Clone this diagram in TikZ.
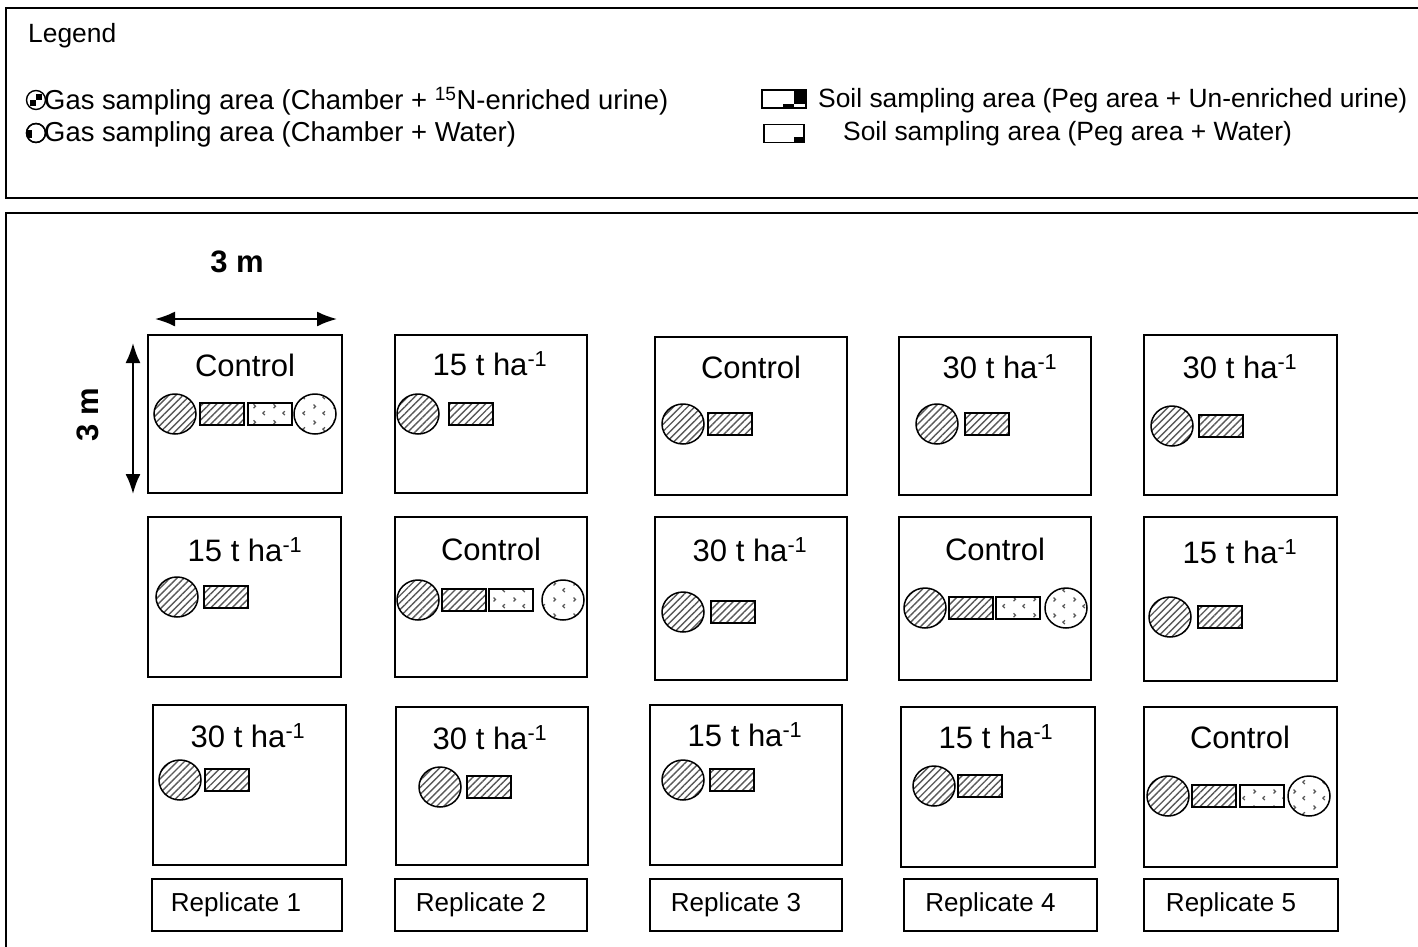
\documentclass[tikz,border=0pt]{standalone}
\usepackage{fontspec}
\setmainfont{Liberation Sans}
\usetikzlibrary{arrows.meta,shapes.geometric,patterns.meta}

\tikzdeclarepattern{
  name=chev,
  type=uncolored,
  bounding box={(0pt,0pt) and (20pt,16pt)},
  tile size={(20pt,16pt)},
  code={
    \draw[line width=1.3pt] (5pt,3pt) -- (3pt,5pt) -- (5pt,7pt);
    \draw[line width=1.3pt] (14pt,10pt) -- (16pt,12pt) -- (14pt,14pt);
  }
}

\tikzset{
  frame/.style={line width=2pt},
  plot/.style={draw, rectangle, line width=1.4pt, inner sep=0pt},
  gas/.style={draw, ellipse, line width=1.5pt, minimum width=42pt, minimum height=40pt, inner sep=0pt},
  peg/.style={draw, rectangle, line width=1.5pt, minimum width=44pt, minimum height=22pt, inner sep=0pt},
  hatch/.style={pattern={Lines[angle=45,distance=5pt,line width=1.4pt]}, pattern color=black!65},
  dotpat/.style={pattern=chev, pattern color=black!65},
  lab/.style={font=\fontsize{31}{36}\selectfont, inner sep=0pt},
  legtxt/.style={font=\fontsize{27.4}{31}\selectfont, anchor=west, inner sep=0pt},
  legtxtr/.style={font=\fontsize{26.4}{31}\selectfont, anchor=west, inner sep=0pt},
  repbox/.style={draw, rectangle, line width=1.4pt, minimum height=52pt, inner sep=0pt},
  reptxt/.style={font=\fontsize{26}{30}\selectfont, inner sep=0pt},
  dim/.style={line width=2pt, {Latex[length=20pt,width=15pt]}-{Latex[length=20pt,width=15pt]}},
  legsym/.style={draw, line width=1.4pt, inner sep=0pt}
}

\begin{document}
\begin{tikzpicture}[x=1pt,y=-1pt]
\useasboundingbox (0,0) rectangle (1418,946);
\fill[white] (0,0) rectangle (1418,946);

% frames
\draw[frame] (1430,8) -- (6,8) -- (6,198) -- (1430,198);
\draw[frame] (1430,213) -- (6,213) -- (6,960);

% legend
\node[legtxtr] (leg) at (28,36) {Legend};
\node[legsym, circle, minimum size=19pt] (lg1) at (36,100) {};
\fill (lg1.center) rectangle ++(6,-6);
\fill (lg1.center) rectangle ++(-6,6);
\node[legtxt] (lt1) at (44,101) {Gas sampling area (Chamber + \textsuperscript{15}N-enriched urine)};
\node[legsym, circle, minimum size=19pt] (lg2) at (36,133) {};
\begin{scope}
  \clip (lg2.center) circle (9.5);
  \fill (26,129.5) rectangle (32,137.5);
\end{scope}
\node[legsym, circle, minimum size=19pt] at (36,133) {};
\node[legtxt] (lt2) at (44,134) {Gas sampling area (Chamber + Water)};

\node[legsym, minimum width=44pt, minimum height=18pt] (ls1) at (784,99) {};
\fill (794,90) rectangle (806,104);
\fill (783,104) rectangle (794,108);
\node[legsym, minimum width=44pt, minimum height=18pt] at (784,99) {};
\node[legtxtr] (lt3) at (818,101) {Soil sampling area (Peg area + Un-enriched urine)};
\node[legsym, minimum width=40pt, minimum height=18pt] (ls2) at (784,133.5) {};
\fill (794,136.5) rectangle (804,142.5);
\node[legsym, minimum width=40pt, minimum height=18pt] at (784,133.5) {};
\node[legtxtr] (lt4) at (843,134) {Soil sampling area (Peg area + Water)};

% dimension arrows
\node[lab, font=\fontsize{31}{36}\selectfont\bfseries] (dimh) at (237,262) {3 m};
\node[lab, font=\fontsize{31}{36}\selectfont\bfseries, rotate=90] (dimv) at (88,415) {3 m};
\coordinate (hl) at (155,319);
\coordinate (hr) at (337,319);
\coordinate (vt) at (133,343);
\coordinate (vb) at (133,494);
\draw[dim] (hl) -- (hr);
\draw[dim] (vt) -- (vb);

% ---- row 1
\node[plot, minimum width=194pt, minimum height=158pt] (p11) at (245,414) {};
\node[lab] (t11) at (245,365) {Control};
\node[gas, hatch] (g11) at (175,414) {};
\node[peg, hatch] (h11) at (222,414) {};
\node[peg, dotpat] (d11) at (270,414) {};
\node[gas, dotpat] (c11) at (315,414) {};

\node[plot, minimum width=192pt, minimum height=158pt] (p21) at (491,414) {};
\node[lab] (t21) at (490,364) {15 t ha\textsuperscript{-1}};
\node[gas, hatch] (g21) at (418,414) {};
\node[peg, hatch] (h21) at (471,414) {};

\node[plot, minimum width=192pt, minimum height=158pt] (p31) at (751,416) {};
\node[lab] (t31) at (751,367) {Control};
\node[gas, hatch] (g31) at (683,424) {};
\node[peg, hatch] (h31) at (730,424) {};

\node[plot, minimum width=192pt, minimum height=158pt] (p41) at (995,416) {};
\node[lab] (t41) at (1000,367) {30 t ha\textsuperscript{-1}};
\node[gas, hatch] (g41) at (937,424) {};
\node[peg, hatch] (h41) at (987,424) {};

\node[plot, minimum width=193pt, minimum height=160pt] (p51) at (1240.5,415) {};
\node[lab] (t51) at (1240,367) {30 t ha\textsuperscript{-1}};
\node[gas, hatch] (g51) at (1172,426) {};
\node[peg, hatch] (h51) at (1221,426) {};

% ---- row 2
\node[plot, minimum width=193pt, minimum height=160pt] (p12) at (244.5,597) {};
\node[lab] (t12) at (245,550) {15 t ha\textsuperscript{-1}};
\node[gas, hatch] (g12) at (177,597) {};
\node[peg, hatch] (h12) at (226,597) {};

\node[plot, minimum width=192pt, minimum height=160pt] (p22) at (491,597) {};
\node[lab] (t22) at (491,549) {Control};
\node[gas, hatch] (g22) at (418,600) {};
\node[peg, hatch] (h22) at (464,600) {};
\node[peg, dotpat] (d22) at (511,600) {};
\node[gas, dotpat] (c22) at (563,600) {};

\node[plot, minimum width=192pt, minimum height=163pt] (p32) at (751,598.5) {};
\node[lab] (t32) at (750,550) {30 t ha\textsuperscript{-1}};
\node[gas, hatch] (g32) at (683,612) {};
\node[peg, hatch] (h32) at (733,612) {};

\node[plot, minimum width=192pt, minimum height=163pt] (p42) at (995,598.5) {};
\node[lab] (t42) at (995,549) {Control};
\node[gas, hatch] (g42) at (925,608) {};
\node[peg, hatch] (h42) at (971,608) {};
\node[peg, dotpat] (d42) at (1018,608) {};
\node[gas, dotpat] (c42) at (1066,608) {};

\node[plot, minimum width=193pt, minimum height=164pt] (p52) at (1240.5,599) {};
\node[lab] (t52) at (1240,552) {15 t ha\textsuperscript{-1}};
\node[gas, hatch] (g52) at (1170,617) {};
\node[peg, hatch] (h52) at (1220,617) {};

% ---- row 3
\node[plot, minimum width=193pt, minimum height=160pt] (p13) at (249.5,785) {};
\node[lab] (t13) at (248,736) {30 t ha\textsuperscript{-1}};
\node[gas, hatch] (g13) at (180,780) {};
\node[peg, hatch] (h13) at (227,780) {};

\node[plot, minimum width=192pt, minimum height=158pt] (p23) at (492,786) {};
\node[lab] (t23) at (490,738) {30 t ha\textsuperscript{-1}};
\node[gas, hatch] (g23) at (440,787) {};
\node[peg, hatch] (h23) at (489,787) {};

\node[plot, minimum width=192pt, minimum height=160pt] (p33) at (746,785) {};
\node[lab] (t33) at (745,735) {15 t ha\textsuperscript{-1}};
\node[gas, hatch] (g33) at (683,780) {};
\node[peg, hatch] (h33) at (732,780) {};

\node[plot, minimum width=194pt, minimum height=160pt] (p43) at (998,787) {};
\node[lab] (t43) at (996,737) {15 t ha\textsuperscript{-1}};
\node[gas, hatch] (g43) at (934,786) {};
\node[peg, hatch] (h43) at (980,786) {};

\node[plot, minimum width=193pt, minimum height=160pt] (p53) at (1240.5,787) {};
\node[lab] (t53) at (1240,737) {Control};
\node[gas, hatch] (g53) at (1168,796) {};
\node[peg, hatch] (h53) at (1214,796) {};
\node[peg, dotpat] (d53) at (1262,796) {};
\node[gas, dotpat] (c53) at (1309,796) {};

% ---- replicates
\node[repbox, minimum width=190pt] (r1) at (247,905) {};
\node[reptxt] at ([xshift=-11pt]r1.center) {Replicate 1};
\node[repbox, minimum width=192pt] (r2) at (491,905) {};
\node[reptxt] at ([xshift=-10pt]r2.center) {Replicate 2};
\node[repbox, minimum width=192pt] (r3) at (746,905) {};
\node[reptxt] at ([xshift=-10pt]r3.center) {Replicate 3};
\node[repbox, minimum width=193pt] (r4) at (1000.5,905) {};
\node[reptxt] at ([xshift=-10pt]r4.center) {Replicate 4};
\node[repbox, minimum width=194pt] (r5) at (1241,905) {};
\node[reptxt] at ([xshift=-10pt]r5.center) {Replicate 5};
\end{tikzpicture}
\end{document}
